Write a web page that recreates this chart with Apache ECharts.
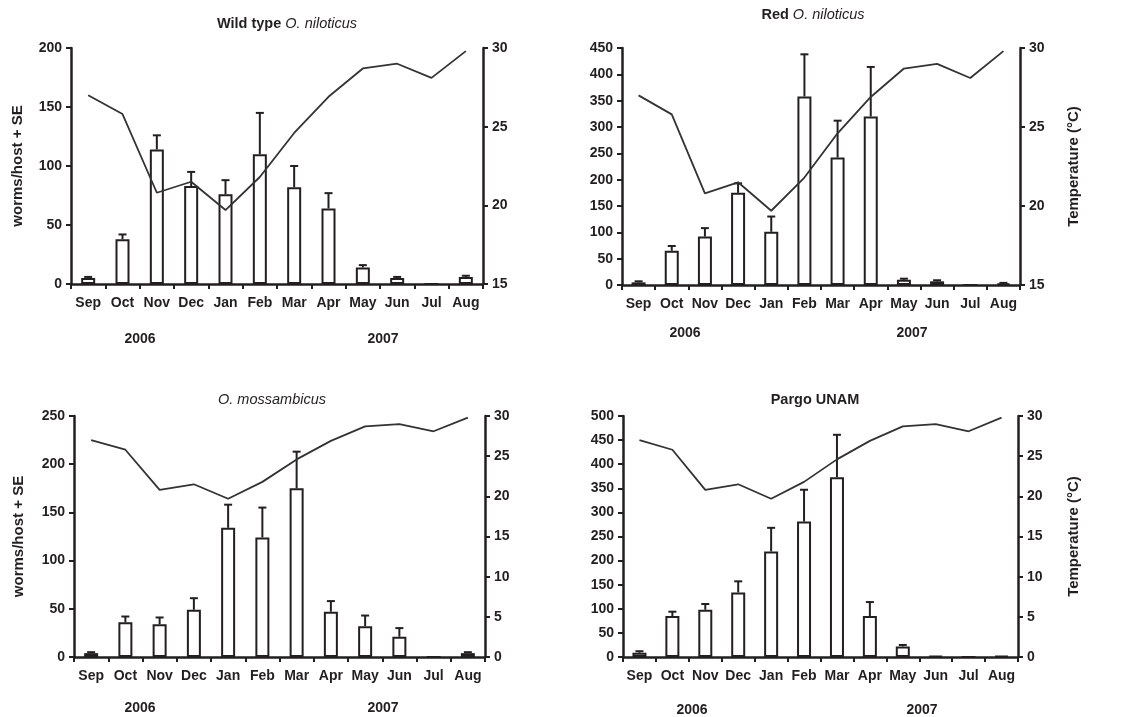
<!DOCTYPE html>
<html>
<head>
<meta charset="utf-8">
<script src="https://cdn.jsdelivr.net/npm/echarts@6/dist/echarts.min.js"></script>
<style>
  html, body { margin: 0; padding: 0; background: #fff; }
  #chart { width: 1124px; height: 717px; }
</style>
</head>
<body>
<div id="chart"></div>
<script>
// data
const months = ["Sep", "Oct", "Nov", "Dec", "Jan", "Feb", "Mar", "Apr", "May", "Jun", "Jul", "Aug"];
const temperature = [27.0, 25.8, 20.8, 21.5, 19.7, 21.8, 24.6, 26.9, 28.7, 29.0, 28.1, 29.8];

const wildMean = [5, 38, 114, 83, 76, 110, 82, 64, 14, 5, 0, 6];
const wildSE = [1, 4, 12, 12, 12, 35, 18, 13, 2, 1, 0, 1];
const redMean = [5, 65, 92, 175, 101, 358, 242, 320, 10, 7, 0, 3];
const redSE = [2, 9, 16, 18, 29, 80, 70, 94, 2, 2, 0, 1];
const mossMean = [4, 36, 34, 49, 134, 124, 175, 47, 32, 21, 0, 4];
const mossSE = [1, 6, 7, 12, 24, 31, 38, 11, 11, 9, 0, 1];
const pargoMean = [9, 85, 98, 134, 219, 281, 373, 85, 22, 2, 0, 2];
const pargoSE = [3, 9, 12, 23, 49, 66, 88, 29, 3, 0, 0, 0];

const wormMax = [200, 450, 250, 500]; // max of left axes
const tempMin = [15, 15, 0, 0];
const years = ["2006", "2007"];

const FONT = "Liberation Sans, Arial, sans-serif";
const INK = "#231f20";

const chart = echarts.init(document.getElementById("chart"));

// panel boxes (left, right, top, height)
const panels = [
	{ left: 71, right: 641, top: 48, height: 236, mean: wildMean, se: wildSE },
	{ left: 622, right: 104, top: 48, height: 237, mean: redMean, se: redSE },
	{ left: 74, right: 639, top: 416, height: 241, mean: mossMean, se: mossSE },
	{ left: 623, right: 106, top: 416, height: 241, mean: pargoMean, se: pargoSE },
];
const leftGap = [46, 0, 48, 0];
const rightGap = [0, 46, 0, 48];

const axisLine = { show: true, lineStyle: { color: INK, width: 2.5 } };
const axisTick = { show: true, length: 5, lineStyle: { color: INK, width: 2 } };
const labelStyle = { color: INK, fontFamily: FONT, fontWeight: "bold", fontSize: 14 };
const nameStyle = { color: INK, fontFamily: FONT, fontWeight: "bold", fontSize: 15 };

const grid = [];
const xAxis = [];
const yAxis = [];
const series = [];

panels.forEach((p, i) => {
	grid.push({ left: p.left, right: p.right, top: p.top, height: p.height });
	xAxis.push({
		type: "category",
		gridIndex: i,
		data: months,
		axisLine: axisLine,
		axisTick: axisTick,
		axisLabel: { ...labelStyle, margin: 12, interval: 0 },
	});
	// worms axis (left)
	yAxis.push({
		type: "value",
		gridIndex: i,
		min: 0,
		max: wormMax[i],
		interval: 50,
		name: i % 2 === 0 ? "worms/host + SE" : "",
		nameLocation: "middle",
		nameRotate: 90,
		nameGap: leftGap[i],
		nameTextStyle: nameStyle,
		axisLine: axisLine,
		axisTick: axisTick,
		axisLabel: { ...labelStyle, margin: 9 },
		splitLine: { show: false },
	});
	// temperature axis (right)
	yAxis.push({
		type: "value",
		gridIndex: i,
		position: "right",
		min: tempMin[i],
		max: 30,
		interval: 5,
		name: i % 2 === 1 ? "Temperature (\u00B0C)" : "",
		nameLocation: "middle",
		nameRotate: 90,
		nameGap: rightGap[i],
		nameTextStyle: nameStyle,
		axisLine: axisLine,
		axisTick: axisTick,
		axisLabel: { ...labelStyle, margin: 9 },
		splitLine: { show: false },
	});

	series.push({
		type: "bar",
		xAxisIndex: i,
		yAxisIndex: i * 2,
		data: p.mean,
		barWidth: 14,
		itemStyle: { color: "#fff", borderColor: INK, borderWidth: 2 },
		silent: true,
		z: 2,
	});
	// error bars
	series.push({
		type: "custom",
		xAxisIndex: i,
		yAxisIndex: i * 2,
		data: p.mean.map((m, k) => [k, m, p.se[k]]),
		renderItem: function (params, api) {
			const v = api.value(1);
			const e = api.value(2);
			if (!e) return null;
			const base = api.coord([api.value(0), v]);
			const top = api.coord([api.value(0), v + e]);
			const style = { stroke: INK, lineWidth: 2 };
			return {
				type: "group",
				children: [
					{ type: "line", shape: { x1: base[0], y1: base[1], x2: top[0], y2: top[1] }, style },
					{ type: "line", shape: { x1: top[0] - 4, y1: top[1], x2: top[0] + 4, y2: top[1] }, style },
				],
			};
		},
		silent: true,
		z: 3,
	});
	series.push({
		type: "line",
		xAxisIndex: i,
		yAxisIndex: i * 2 + 1,
		data: temperature,
		showSymbol: false,
		lineStyle: { color: "#333", width: 1.8 },
		silent: true,
		z: 4,
	});
});

const titleBold = { fontFamily: FONT, fontWeight: "bold", fontSize: 14.5, color: INK };
const titleItal = { fontFamily: FONT, fontStyle: "italic", fontWeight: "normal", fontSize: 14.5, color: INK };
const title = [
	{ text: "{b|Wild type }{i|O. niloticus}", left: 287, top: 16 },
	{ text: "{b|Red }{i|O. niloticus}", left: 813, top: 7 },
	{ text: "{i|O. mossambicus}", left: 272, top: 392 },
	{ text: "{b|Pargo UNAM}", left: 815, top: 392 },
].map((t) => ({
	...t,
	textAlign: "center",
	padding: 0,
	textStyle: { rich: { b: titleBold, i: titleItal } },
}));

// year captions under the month labels
const yearPos = [
	[140, 339, 383, 339],
	[685, 333, 912, 333],
	[140, 708, 383, 708],
	[692, 710, 922, 710],
];
const graphic = [];
yearPos.forEach((q) => {
	[0, 1].forEach((k) => {
		graphic.push({
			type: "text",
			x: q[k * 2],
			y: q[k * 2 + 1],
			style: {
				text: years[k],
				fill: INK,
				font: "bold 14px " + FONT,
				textAlign: "center",
				textVerticalAlign: "middle",
			},
		});
	});
});

chart.setOption({
	animation: false,
	backgroundColor: "#fff",
	title,
	grid,
	xAxis,
	yAxis,
	series,
	graphic,
});
</script>
</body>
</html>
